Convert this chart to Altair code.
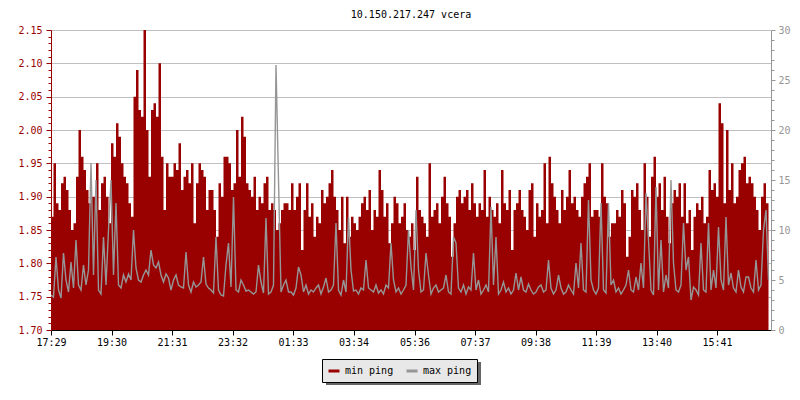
import json
import altair as alt
import pandas as pd

TITLE = "10.150.217.247 vcera"
SERIES = ["min ping", "max ping"]
START = "17:29"
STEP_MIN = 5
TICK_LABELS = ["17:29", "19:30", "21:31", "23:32", "01:33", "03:34",
               "05:36", "07:37", "09:38", "11:39", "13:40", "15:41"]

# min ping (left axis), one value per 5 minutes
min_ping = [
    1.87, 1.95, 1.89, 1.88, 1.92, 1.93, 1.91, 1.88, 1.85, 1.86,
    1.93, 2.00, 1.96, 1.94, 1.91, 1.89, 1.90, 1.90, 1.95, 1.88,
    1.92, 1.93, 1.90, 1.86, 1.98, 1.96, 2.01, 1.99, 1.95, 1.93,
    1.92, 1.89, 1.87, 2.05, 2.09, 2.03, 2.02, 2.15, 2.00, 1.93,
    2.03, 2.04, 2.02, 2.10, 1.96, 1.88, 1.95, 1.93,
    1.93, 1.95, 1.94, 1.98, 1.91, 1.93, 1.94, 1.92, 1.95, 1.86,
    1.92, 1.95, 1.94, 1.93, 1.88, 1.91, 1.91, 1.88, 1.84, 1.92,
    1.90, 1.96, 1.96, 1.95, 1.91, 1.92, 2.00, 1.93, 2.02, 1.99,
    1.92, 1.91, 1.90, 1.93, 1.88, 1.90, 1.89, 1.92, 1.93, 1.88,
    1.89, 1.88, 1.85, 1.86, 1.88, 1.89, 1.89, 1.88,
    1.92, 1.88, 1.90, 1.92, 1.82, 1.88, 1.92, 1.87, 1.89, 1.84,
    1.87, 1.86, 1.91, 1.89, 1.90, 1.92, 1.94, 1.90, 1.88, 1.85,
    1.90, 1.83, 1.90, 1.84, 1.87, 1.86, 1.85, 1.87, 1.89, 1.90,
    1.88, 1.91, 1.85, 1.88, 1.87, 1.94, 1.91, 1.87, 1.89, 1.83,
    1.86, 1.90, 1.89, 1.86, 1.87, 1.89, 1.85, 1.84,
    1.86, 1.82, 1.93, 1.88, 1.87, 1.86, 1.84, 1.95, 1.87, 1.88,
    1.89, 1.86, 1.90, 1.93, 1.89, 1.87, 1.81, 1.86, 1.90, 1.91,
    1.89, 1.90, 1.91, 1.88, 1.92, 1.89, 1.87, 1.89, 1.88, 1.94,
    1.87, 1.90, 1.88, 1.87, 1.89, 1.86, 1.94, 1.89, 1.88, 1.91,
    1.82, 1.88, 1.89, 1.91, 1.88, 1.87, 1.85, 1.91,
    1.92, 1.84, 1.89, 1.87, 1.88, 1.95, 1.86, 1.96, 1.92, 1.90,
    1.88, 1.86, 1.91, 1.88, 1.90, 1.94, 1.89, 1.90, 1.88, 1.87,
    1.90, 1.92, 1.93, 1.95, 1.87, 1.88, 1.88, 1.87, 1.95, 1.90,
    1.89, 1.84, 1.86, 1.86, 1.88, 1.87, 1.91, 1.89, 1.81, 1.84,
    1.91, 1.90, 1.92, 1.88, 1.85, 1.95, 1.90, 1.84,
    1.93, 1.96, 1.90, 1.92, 1.88, 1.93, 1.87, 1.83, 1.89, 1.91,
    1.90, 1.92, 1.87, 1.92, 1.86, 1.88, 1.82, 1.87, 1.89, 1.88,
    1.90, 1.86, 1.87, 1.94, 1.91, 1.92, 1.90, 2.04, 2.01, 1.89,
    2.00, 1.91, 1.95, 1.89, 1.90, 1.94, 1.95, 1.96, 1.92, 1.93,
    1.92, 1.90, 1.88, 1.85, 1.90, 1.92, 1.89, 1.93,
]

# max ping (right axis), one value per 5 minutes
max_ping = [
    3.5, 3.3, 7.3, 4.0, 3.2, 7.7, 5.0, 3.8, 6.8, 4.2,
    9.0, 4.5, 4.0, 6.5, 4.5, 6.0, 16.7, 5.5, 15.0, 4.0,
    3.6, 9.3, 4.5, 10.0, 15.0, 5.5, 12.7, 4.5, 4.2, 5.5,
    4.8, 5.6, 5.0, 10.0, 6.2, 5.0, 4.8, 5.5, 6.0, 5.5,
    8.0, 6.5, 6.2, 6.8, 5.5, 4.8, 5.6, 5.2,
    4.0, 5.0, 5.5, 4.5, 4.3, 4.2, 7.8, 4.5, 3.8, 4.8,
    4.3, 4.5, 4.8, 7.3, 4.6, 4.2, 4.0, 3.7, 9.3, 4.0,
    3.5, 3.4, 6.5, 8.7, 4.3, 13.3, 4.0, 3.8, 5.0, 4.5,
    3.9, 4.0, 3.8, 3.6, 3.8, 6.5, 4.8, 3.7, 11.2, 3.6,
    3.8, 4.5, 26.5, 15.0, 3.8, 4.5, 5.0, 3.8,
    3.8, 3.5, 4.2, 6.3, 5.5, 3.8, 4.5, 3.6, 4.0, 3.8,
    4.2, 4.5, 3.6, 4.3, 5.2, 3.8, 4.0, 4.5, 10.7, 4.0,
    3.5, 5.0, 3.8, 11.3, 6.0, 3.9, 4.0, 3.6, 4.2, 4.0,
    7.0, 4.2, 4.0, 3.8, 4.5, 3.7, 4.0, 3.6, 4.5, 4.2,
    8.7, 5.0, 3.8, 4.2, 3.6, 4.0, 4.5, 10.0,
    6.3, 4.0, 12.0, 6.0, 3.8, 4.0, 7.7, 5.5, 3.6, 4.2,
    4.5, 3.8, 4.0, 4.2, 5.5, 3.8, 3.6, 9.3, 8.7, 4.2,
    3.8, 4.5, 3.6, 4.3, 4.0, 7.7, 4.0, 5.0, 3.6, 4.0,
    4.5, 3.8, 12.3, 4.5, 9.3, 3.6, 4.0, 4.8, 3.8, 4.2,
    3.6, 4.0, 5.7, 4.0, 5.3, 4.0, 3.8, 4.6,
    4.0, 3.6, 3.8, 4.3, 4.5, 3.8, 4.0, 7.0, 4.2, 3.6,
    4.0, 5.5, 4.2, 3.6, 3.8, 4.5, 4.0, 3.6, 6.7, 4.2,
    8.7, 4.0, 3.8, 13.0, 5.0, 4.0, 3.6, 4.2, 12.7, 4.0,
    3.7, 12.7, 4.5, 5.0, 3.8, 4.2, 3.6, 4.0, 4.5, 6.0,
    4.0, 3.8, 5.3, 4.0, 6.7, 4.2, 13.7, 9.0,
    4.0, 3.5, 14.3, 4.0, 9.0, 3.8, 5.5, 4.2, 15.0, 6.7,
    4.0, 3.8, 4.5, 10.7, 6.0, 7.3, 3.0, 4.3, 4.0, 3.5,
    8.7, 4.0, 3.8, 10.7, 4.0, 6.0, 4.2, 10.3, 5.0, 4.0,
    11.3, 4.5, 5.7, 4.2, 3.8, 6.0, 4.3, 3.8, 5.3, 5.3,
    4.2, 3.8, 7.0, 4.0, 4.5, 10.0, 12.0, 5.0,
]


def to_min(s):
    h, m = s.split(":")
    return int(h) * 60 + int(m)


start = to_min(START)
tick_pos = [(to_min(t) - start) % 1440 for t in TICK_LABELS]

df = pd.DataFrame({
    "t": [i * STEP_MIN for i in range(len(min_ping))],
    "minp": min_ping,
    "maxp": max_ping,
})

FONT = "DejaVu Sans Mono"
RED = "#990000"
GRAY = "#969696"
GRID = "#c0c0c0"

left_vals = [round(1.70 + 0.01 * i, 2) for i in range(46)]
right_vals = list(range(0, 31))

major_left = "round(datum.value*100) % 5 == 0"
major_right = "round(datum.value) % 5 == 0"

x_enc = alt.X(
    "t:Q",
    scale=alt.Scale(domain=[0, 1440], nice=False, zero=False),
    axis=alt.Axis(
        values=tick_pos,
        labelExpr=f"{json.dumps(TICK_LABELS)}[indexof({json.dumps(tick_pos)}, datum.value)]",
        title=None, grid=False, domainColor="black", tickColor="black",
        tickSize=5, labelPadding=2, labelFont=FONT, labelFontSize=10,
        labelColor="black", labelFlush=False, labelOverlap=False,
    ),
)

color_scale = alt.Scale(domain=SERIES, range=[RED, GRAY])
op_scale = alt.Scale(type="ordinal", domain=["s1", "s2"], range=[1, 1])

legend_main = alt.Legend(
    title=None, orient="none", legendX=271, legendY=329, direction="horizontal",
    symbolType="stroke", symbolStrokeWidth=3, symbolSize=121,
    labelFont=FONT, labelFontSize=10, labelColor="black",
    fillColor="#e8e8e8", strokeColor="black", padding=5,
    columnPadding=6, labelOffset=4,
    labelExpr="datum.label == 'max ping' ? 'max ping  ' : datum.label",
    zindex=2,
)
# drop shadow of the legend box (no text, same footprint)
legend_shadow = alt.Legend(
    title=None, orient="none", legendX=275, legendY=332, direction="horizontal",
    symbolType="stroke", symbolStrokeWidth=3, symbolSize=121,
    symbolStrokeColor="#666666", symbolFillColor="#666666",
    labelFont=FONT, labelFontSize=10, labelColor="#666666",
    fillColor="#666666", padding=5, columnPadding=6, labelOffset=53,
    labelExpr="''",
    zindex=1,
)

area = alt.Chart(df).transform_calculate(
    series=f"'{SERIES[0]}'", sh="'s1'"
).mark_area(interpolate="step-after", clip=True).encode(
    x=x_enc,
    y=alt.Y(
        "minp:Q",
        scale=alt.Scale(domain=[1.70, 2.15], nice=False, zero=False),
        axis=alt.Axis(
            orient="left", values=left_vals, title=None,
            labelExpr=f"{major_left} ? format(datum.value, '.2f') : ''",
            labelFont=FONT, labelFontSize=10, labelColor=RED, labelPadding=4,
            labelOverlap=False, labelFlush=False,
            domainColor=RED, tickColor=RED,
            tickSize={"condition": {"test": major_left, "value": 5}, "value": 3},
            grid=True, gridColor=GRID, gridWidth=1,
            gridOpacity={"condition": {"test": major_left, "value": 1}, "value": 0},
        ),
    ),
    color=alt.Color("series:N", scale=color_scale, legend=legend_main),
    opacity=alt.Opacity("sh:N", scale=op_scale, legend=legend_shadow),
)

line = alt.Chart(df).transform_calculate(
    series=f"'{SERIES[1]}'", sh="'s2'"
).mark_line(interpolate="linear", strokeWidth=1.4, clip=True).encode(
    x=x_enc,
    y=alt.Y(
        "maxp:Q",
        scale=alt.Scale(domain=[0, 30], nice=False, zero=False),
        axis=alt.Axis(
            orient="right", values=right_vals, title=None,
            labelExpr=f"{major_right} ? datum.label : ''",
            labelFont=FONT, labelFontSize=10, labelColor=GRAY, labelPadding=3,
            labelOverlap=False, labelFlush=False,
            domainColor=GRAY, tickColor=GRAY,
            tickSize={"condition": {"test": major_right, "value": 4}, "value": 3},
            grid=False,
        ),
    ),
    color=alt.Color("series:N", scale=color_scale, legend=legend_main),
    opacity=alt.Opacity("sh:N", scale=op_scale, legend=legend_shadow),
)

chart = (
    alt.layer(area, line)
    .resolve_scale(y="independent")
    .properties(
        width=720,
        height=300,
        title=alt.TitleParams(TITLE, font=FONT, fontSize=10, fontWeight="normal",
                              color="black", anchor="middle", offset=5),
        autosize=alt.AutoSizeParams(type="none"),
        padding={"left": 43, "top": 22, "right": 21, "bottom": 60},
    )
    .configure_view(stroke=None)
)

chart.save("out.html", embed_options={"renderer": "svg", "actions": False})
